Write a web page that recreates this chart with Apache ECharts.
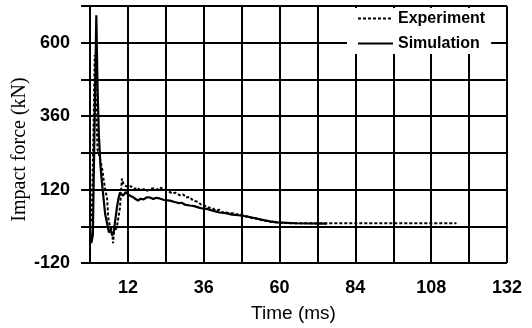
<!DOCTYPE html>
<html>
<head>
<meta charset="utf-8">
<script src="https://cdn.jsdelivr.net/npm/echarts@6/dist/echarts.min.js"></script>
<style>
  html, body { margin: 0; padding: 0; background: #fff; }
  #main { width: 532px; height: 328px; }
</style>
</head>
<body>
<div id="main"></div>
<script>
// time (ms) and impact force (kN)
var expTime = [0, 0.6, 1.0, 1.5, 1.9, 2.4, 3.0, 3.2, 4.0, 4.2, 5.0, 5.4, 5.7, 5.9, 6.5, 7.0, 7.3, 7.6, 8.5, 9.5, 10.1, 10.5, 11.1, 12, 13, 14, 15, 16, 17, 18, 19, 20, 21, 22, 23, 24, 25, 26.2, 27, 28.5, 29.5, 30.5, 31.5, 32.6, 34, 35, 36, 37, 38.5, 40, 41, 42, 43, 44, 45.5, 46.5, 48, 49, 50, 51.5, 53, 54, 56, 57, 60, 64, 70, 80, 90, 100, 110, 116];
var expForce = [0, 40, 250, 560, 400, 250, 230, 224, 180, 159, 110, 94, 40, 19, -5, -13, -55, -20, -3, 62, 156, 140, 133, 128, 131, 122, 126, 117, 121, 116, 122, 124, 119, 127, 123, 118, 113, 107, 110, 101, 104, 94, 96, 84, 80, 72, 70, 62, 60, 52, 54, 45, 46, 42, 43, 39, 38, 33, 32, 26, 25, 21, 17, 15, 11, 10, 10, 10, 10, 10, 10, 10];

var simTime = [0, 0.4, 0.9, 1.4, 2.0, 2.4, 2.8, 3.3, 3.8, 4.3, 4.8, 5.4, 6.0, 6.5, 7.0, 7.5, 8.0, 8.5, 9.0, 9.5, 10.5, 11.3, 12, 12.6, 13.5, 14.3, 15.2, 16, 17, 18, 19, 20, 21, 22, 23.5, 25.3, 26.5, 28, 29, 30, 31.6, 33, 34.5, 35.7, 37, 38.5, 40, 41, 43, 45, 47, 49.6, 52, 55, 57, 59.4, 65, 75];
var simForce = [0, -55, -30, 300, 690, 450, 300, 200, 140, 90, 40, 10, -20, -10, -30, -20, 20, 60, 90, 110, 100, 112, 104, 107, 96, 90, 84, 90, 88, 95, 94, 89, 93, 91, 86, 84, 80, 76, 77, 71, 68, 66, 61, 58, 57, 52, 48, 45, 43, 38, 36, 32, 27, 20, 16, 13, 10, 9];

var xLabels = [12, 36, 60, 84, 108, 132];
var yLabels = [-120, 120, 360, 600];

function pairs(t, v) {
  return t.map(function (x, i) { return [x, v[i]]; });
}

var chart = echarts.init(document.getElementById('main'));

var option = {
  animation: false,
  backgroundColor: '#fff',
  grid: { left: 90, right: 25, top: 6, bottom: 65, outerBoundsMode: 'none', containLabel: false },
  legend: {
    orient: 'vertical',
    left: 347,
    top: 8,
    padding: [2, 6, 2, 10],
    itemGap: 8,
    itemWidth: 35,
    itemHeight: 14,
    backgroundColor: '#fff',
    itemStyle: { opacity: 0 },
    textStyle: { fontFamily: 'Liberation Sans', fontSize: 16, color: '#000', lineHeight: 17, fontWeight: 'bold' },
    data: ['Experiment', 'Simulation']
  },
  xAxis: {
    type: 'value',
    min: 0,
    max: 132,
    interval: 12,
    name: 'Time (ms)',
    nameLocation: 'middle',
    nameGap: 41,
    nameMoveOverlap: false,
    nameTextStyle: { fontFamily: 'Liberation Sans', fontSize: 19, color: '#000', padding: [0, 10, 0, 0] },
    axisLine: { show: true, lineStyle: { color: '#000', width: 2 } },
    axisTick: { show: true, inside: false, length: 9, lineStyle: { color: '#000', width: 2 } },
    axisLabel: {
      margin: 16,
      fontFamily: 'Liberation Sans', fontSize: 18, fontWeight: 'bold', color: '#000',
      formatter: function (v) { return xLabels.indexOf(v) >= 0 ? String(v) : ''; }
    },
    splitLine: { show: true, lineStyle: { color: '#000', width: 2 } }
  },
  yAxis: {
    type: 'value',
    min: -120,
    max: 720,
    interval: 120,
    name: 'Impact force (kN)',
    nameLocation: 'middle',
    nameGap: 60,
    nameMoveOverlap: false,
    nameTextStyle: { fontFamily: 'Liberation Serif', fontSize: 20, color: '#000', padding: [0, 30, 0, 0] },
    axisLine: { show: true, lineStyle: { color: '#000', width: 2 } },
    axisTick: { show: true, inside: false, length: 9, lineStyle: { color: '#000', width: 2 } },
    axisLabel: {
      margin: 20,
      fontFamily: 'Liberation Sans', fontSize: 18, fontWeight: 'bold', color: '#000',
      formatter: function (v) { return yLabels.indexOf(v) >= 0 ? String(v) : ''; }
    },
    splitLine: { show: true, lineStyle: { color: '#000', width: 2 } }
  },
  series: [
    {
      name: 'Experiment',
      type: 'line',
      symbol: 'none',
      data: pairs(expTime, expForce),
      lineStyle: { color: '#000', width: 2, type: [3, 2] },
      itemStyle: { color: '#000' }
    },
    {
      name: 'Simulation',
      type: 'line',
      symbol: 'none',
      data: pairs(simTime, simForce),
      lineStyle: { color: '#000', width: 2.2 },
      itemStyle: { color: '#000' }
    }
  ]
};
chart.setOption(option);
</script>
</body>
</html>
